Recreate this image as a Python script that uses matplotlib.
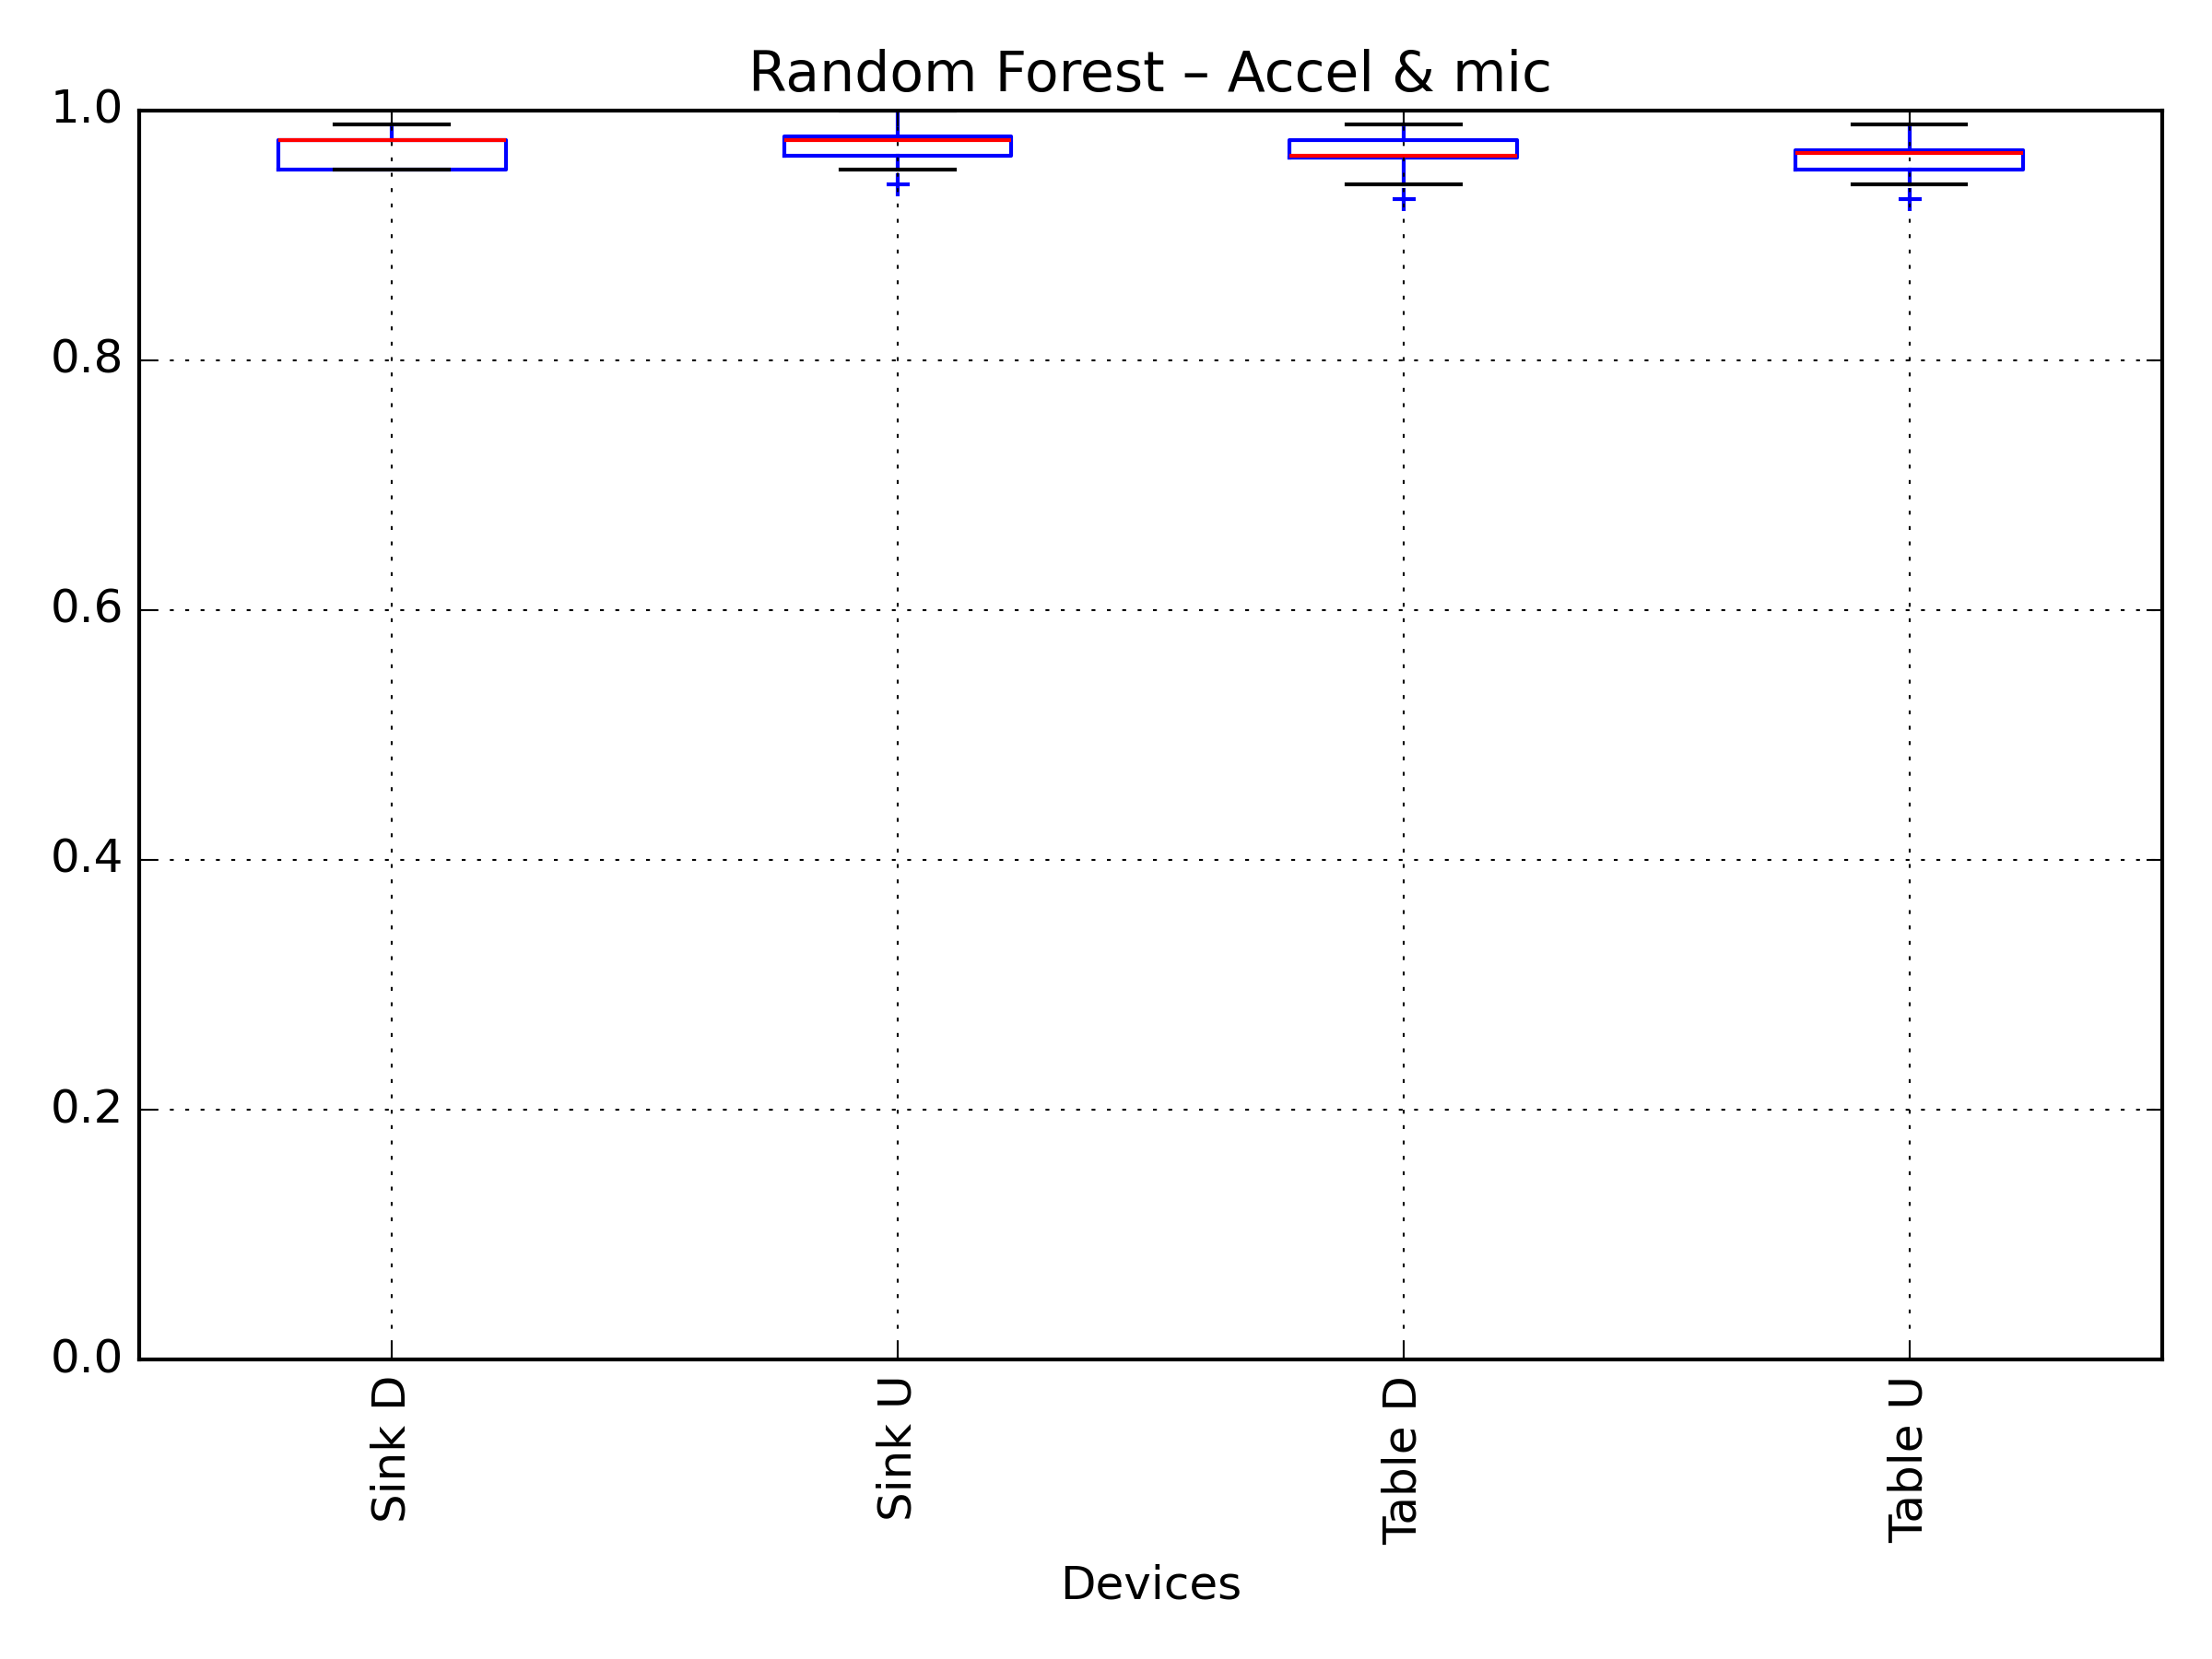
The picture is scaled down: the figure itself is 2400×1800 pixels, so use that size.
import matplotlib
matplotlib.use("Agg")
import matplotlib.pyplot as plt

devices = ['Sink D', 'Sink U', 'Table D', 'Table U']
whislo = [0.953, 0.953, 0.941, 0.941]
q1 = [0.953, 0.964, 0.962, 0.953]
med = [0.976, 0.976, 0.964, 0.966]
q3 = [0.976, 0.979, 0.976, 0.968]
whishi = [0.989, 1.0, 0.989, 0.989]
fliers = [[], [0.941], [0.929], [0.929]]

plt.style.use('classic')
fig, ax = plt.subplots(figsize=(8, 6))

stats = []
for i in range(len(devices)):
    stats.append(dict(label=devices[i], whislo=whislo[i], q1=q1[i], med=med[i],
                      q3=q3[i], whishi=whishi[i], fliers=fliers[i]))

ax.bxp(stats, showfliers=True,
       boxprops=dict(color='b'),
       medianprops=dict(color='r'),
       whiskerprops=dict(color='b', linestyle='-'),
       capprops=dict(color='k'),
       flierprops=dict(marker='+', markeredgecolor='b', markersize=6))

ax.set_ylim(0, 1.0)
ax.grid(True)
ax.set_title('Random Forest \u2013 Accel & mic')
ax.set_xlabel('Devices')
plt.setp(ax.get_xticklabels(), rotation=90)
plt.tight_layout()
plt.savefig('out.png', dpi=300)
